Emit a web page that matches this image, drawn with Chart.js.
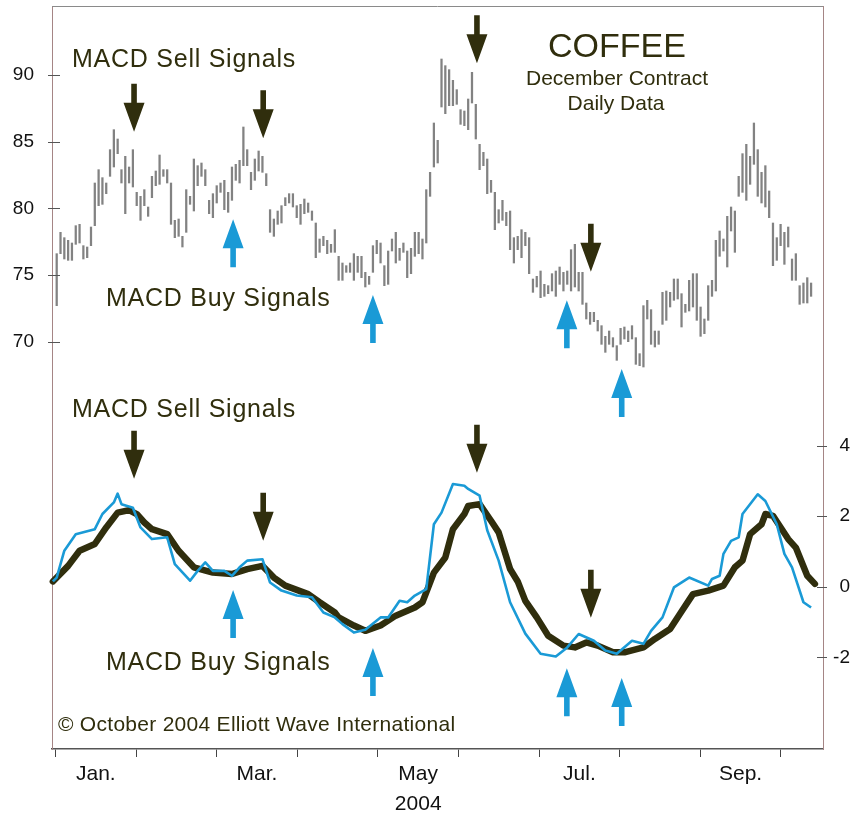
<!DOCTYPE html>
<html>
<head>
<meta charset="utf-8">
<title>Coffee December Contract - MACD signals</title>
<script src="https://cdn.jsdelivr.net/npm/chart.js@4.4.1/dist/chart.umd.min.js"></script>
<style>
    html, body { margin: 0; padding: 0; background: #ffffff; }
    #wrap { width: 864px; height: 816px; }
</style>
</head>
<body>
<div id="wrap"><canvas id="chart" width="864" height="816"></canvas></div>
<script>
// month labels sit between the month tick marks (only every other month is labelled)
const monthLabels = ['Jan.', '', 'Mar.', '', ['May', '2004'], '', 'Jul.', '', 'Sep.'];
const priceTicks = [70, 75, 80, 85, 90];
const macdTicks = [-2, 0, 2, 4];

// daily high / low, one entry per trading day starting in early January
const priceHigh = [
    76.6, 78.2, 77.8, 77.6, 77.4, 78.7, 78.8, 77.2, 77.1, 78.6,
    81.9, 82.9, 82.3, 81.9, 84.4, 85.9, 85.2, 82.9, 83.9, 83.1,
    84.4, 81.2, 80.9, 81.4, 80.1, 82.4, 82.8, 84.0, 82.9, 82.9,
    81.9, 79.1, 79.2, 77.9, 81.4, 80.9, 83.7, 83.2, 83.4, 82.9,
    80.6, 81.1, 81.7, 81.9, 82.1, 81.2, 83.1, 83.3, 83.6, 86.1,
    84.4, 82.7, 83.7, 84.3, 83.9, 82.6, 79.9, 79.2, 79.8, 80.2,
    80.8, 81.1, 81.1, 80.2, 80.3, 80.7, 80.4, 79.8, 78.9, 77.7,
    77.9, 77.6, 77.3, 78.4, 76.4, 75.9, 75.7, 75.9, 76.6, 76.4,
    76.4, 75.2, 74.9, 77.2, 77.6, 77.4, 75.7, 76.8, 77.7, 78.2,
    77.0, 77.4, 76.8, 77.0, 78.2, 78.2, 77.7, 81.4, 82.7, 86.4,
    85.1, 91.2, 90.7, 90.4, 89.6, 88.9, 87.4, 87.3, 88.2, 90.2,
    87.8, 84.8, 84.2, 83.7, 82.1, 81.2, 79.9, 80.6, 79.7, 79.8,
    77.8, 77.9, 78.4, 78.2, 77.8, 74.7, 74.9, 75.3, 74.3, 74.2,
    75.1, 75.3, 75.6, 75.2, 75.3, 76.9, 77.3, 75.2, 75.2, 72.9,
    72.2, 72.2, 71.6, 71.2, 70.4, 70.8, 70.3, 69.7, 71.0, 71.1,
    70.8, 71.2, 70.3, 69.1, 72.7, 73.1, 72.4, 70.8, 70.8, 73.7,
    73.8, 73.7, 74.7, 74.7, 73.6, 72.8, 74.6, 75.1, 75.1, 72.6,
    71.7, 74.2, 74.6, 77.6, 78.3, 77.7, 79.4, 80.1, 79.8, 82.4,
    84.1, 84.8, 83.9, 86.4, 84.4, 82.7, 83.2, 81.3, 78.9, 77.8,
    78.8, 78.2, 78.6, 76.2, 76.6, 74.2, 74.4, 74.8, 74.4
];
const priceLow = [
    72.7, 76.6, 76.2, 76.1, 76.1, 77.3, 77.4, 76.2, 76.3, 77.2,
    78.7, 80.2, 80.3, 81.1, 82.4, 83.1, 84.1, 81.9, 79.6, 81.9,
    81.6, 80.2, 79.1, 80.2, 79.4, 80.8, 81.7, 81.8, 82.4, 81.9,
    78.8, 77.8, 77.9, 77.1, 78.2, 80.3, 79.8, 81.7, 82.4, 81.7,
    79.6, 79.3, 80.4, 81.2, 79.9, 79.7, 80.6, 82.1, 81.9, 83.2,
    83.2, 81.4, 82.1, 82.8, 82.7, 81.7, 78.2, 77.9, 78.8, 78.9,
    80.2, 80.4, 80.1, 79.3, 78.8, 79.6, 79.7, 79.1, 76.3, 76.7,
    77.2, 76.6, 76.7, 76.7, 74.6, 74.6, 75.2, 75.2, 74.6, 75.2,
    74.8, 74.1, 74.3, 75.2, 76.6, 75.9, 74.2, 74.3, 76.8, 75.9,
    76.1, 76.7, 74.8, 75.1, 76.4, 76.6, 76.2, 77.4, 80.9, 83.1,
    83.4, 87.6, 87.1, 87.7, 87.7, 87.8, 86.3, 86.2, 85.9, 87.9,
    85.2, 82.9, 83.2, 81.1, 81.2, 78.4, 78.9, 79.1, 78.7, 76.9,
    75.9, 76.9, 76.3, 77.2, 75.1, 73.7, 74.1, 73.3, 73.4, 73.6,
    73.8, 73.4, 74.3, 73.8, 74.3, 73.8, 74.1, 73.8, 72.8, 71.7,
    71.3, 71.5, 70.8, 69.8, 69.2, 69.8, 69.6, 68.6, 69.8, 70.2,
    70.0, 70.2, 68.3, 68.2, 68.1, 71.7, 69.8, 69.6, 69.8, 71.3,
    71.6, 72.6, 73.1, 73.2, 71.1, 72.2, 72.3, 72.6, 71.6, 70.4,
    70.6, 71.6, 73.4, 73.8, 76.4, 76.8, 75.6, 78.3, 76.7, 80.9,
    81.2, 80.6, 81.8, 83.3, 80.9, 80.4, 80.1, 79.3, 75.7, 76.1,
    77.2, 75.8, 77.1, 74.6, 74.6, 72.8, 72.9, 72.9, 73.4
];

// MACD (thin blue) and its signal line (thick dark), read at these trading days
const macdDays = [
    -1, 0, 2, 5, 10, 12, 15, 16, 17, 20, 22, 25, 29, 31, 35, 37, 39, 41, 44, 46,
    48, 50, 54, 56, 59, 63, 67, 70, 73, 75, 78, 81, 85, 87, 90, 92, 94, 97, 99, 101,
    104, 107, 108, 111, 113, 116, 119, 123, 127, 131, 134, 137, 141, 144, 147, 151, 154, 156, 159, 162,
    166, 171, 172, 174, 175, 177, 179, 180, 184, 186, 189, 191, 193, 196, 198
];
const macdLine = [
    0.15, 0.26, 1.02, 1.49, 1.63, 2.06, 2.39, 2.64, 2.34, 2.24, 1.68, 1.35, 1.40, 0.64, 0.17, 0.45, 0.69, 0.45, 0.45, 0.31,
    0.55, 0.74, 0.78, 0.12, -0.11, -0.25, -0.30, -0.73, -0.87, -1.06, -1.30, -1.22, -0.87, -0.87, -0.40, -0.44, -0.25, -0.07, 1.77, 2.10,
    2.91, 2.86, 2.77, 2.58, 1.60, 0.74, -0.44, -1.33, -1.90, -1.98, -1.72, -1.34, -1.53, -1.81, -1.90, -1.53, -1.62, -1.25, -0.87, -0.02,
    0.26, 0.03, 0.22, 0.31, 0.93, 1.30, 1.40, 2.06, 2.62, 2.43, 1.77, 0.93, 0.55, -0.44, -0.59
];
const signalDays = [
    -1, 3, 6, 10, 13, 16, 19, 21, 23, 25, 29, 32, 36, 41, 46, 50, 54, 57, 60, 66,
    69, 73, 74, 78, 81, 85, 89, 94, 96, 99, 102, 104, 107, 108, 111, 114, 116, 119, 121, 123,
    126, 129, 133, 136, 139, 142, 146, 149, 154, 157, 161, 164, 167, 171, 175, 178, 180, 182, 185, 186,
    188, 192, 194, 197, 199
];
const signalLine = [
    0.15, 0.59, 1.02, 1.21, 1.68, 2.10, 2.17, 2.06, 1.82, 1.63, 1.49, 1.02, 0.55, 0.40, 0.36, 0.50, 0.59, 0.26, 0.03, -0.21,
    -0.44, -0.73, -0.87, -1.10, -1.25, -1.10, -0.82, -0.59, -0.44, 0.40, 0.83, 1.63, 2.06, 2.29, 2.34, 1.87, 1.54, 0.50, 0.15, -0.40,
    -0.87, -1.39, -1.67, -1.72, -1.58, -1.67, -1.86, -1.86, -1.72, -1.48, -1.20, -0.70, -0.21, -0.11, 0.03, 0.55, 0.74, 1.49, 1.77, 2.06,
    2.01, 1.35, 1.11, 0.31, 0.08
];

// signal arrows: trading day, and where the arrow tip sits in each panel
const sellDays = [20.3, 54.2, 110.3, 140.2];
const buyDays = [46.3, 83.0, 133.9, 148.3];
const sellTipPrice = [85.75, 85.25, 90.88, 75.25];
const buyTipPrice = [79.18, 73.5, 73.1, 67.95];
const sellTipMacd = [3.06, 1.30, 3.23, -0.88];
const buyTipMacd = [-0.09, -1.74, -2.31, -2.59];

const FONT = '"Liberation Sans", Arial, Helvetica, sans-serif';
const DARK = '#302e0d';
const BLUE = '#1a9ad6';

// month grid: first month starts at day -0.315, ~21.155 trading days per month
const monthStart = -0.315;
const monthLen = 21.155;

const bars = priceHigh.map((h, i) => ({ x: i, y: [priceLow[i], h] }));
const macdPoints = macdDays.map((d, i) => ({ x: d, y: macdLine[i] }));
const signalPoints = signalDays.map((d, i) => ({ x: d, y: signalLine[i] }));

function drawArrow(ctx, x, tipY, dir, color) {
    // dir 1 = pointing down, -1 = pointing up
    const total = 48, head = 29, halfHead = 10.5, halfShaft = 2.8;
    const baseY = tipY - dir * head;
    const tailY = tipY - dir * total;
    ctx.fillStyle = color;
    ctx.beginPath();
    ctx.moveTo(x - halfShaft, tailY);
    ctx.lineTo(x + halfShaft, tailY);
    ctx.lineTo(x + halfShaft, baseY);
    ctx.lineTo(x + halfHead, baseY);
    ctx.lineTo(x, tipY);
    ctx.lineTo(x - halfHead, baseY);
    ctx.lineTo(x - halfShaft, baseY);
    ctx.closePath();
    ctx.fill();
}

// keep the axes from reserving room for half-labels at the plot edges
function noEdgePadding(scale) {
    scale.paddingTop = 0;
    scale.paddingBottom = 0;
    scale.paddingLeft = 0;
    scale.paddingRight = 0;
}

const decorations = {
    id: 'decorations',
    afterDraw(chart) {
        const ctx = chart.ctx;
        const area = chart.chartArea;
        const xs = chart.scales.x, ys = chart.scales.y, ys2 = chart.scales.y2;
        ctx.save();

        // top frame line
        ctx.strokeStyle = '#8a8a8a';
        ctx.lineWidth = 1;
        ctx.beginPath();
        ctx.moveTo(area.left, area.top + 0.5);
        ctx.lineTo(area.right, area.top + 0.5);
        ctx.stroke();

        // tick marks crossing the two value axes
        ctx.strokeStyle = '#555';
        priceTicks.forEach(v => {
            const py = Math.round(ys.getPixelForValue(v)) + 0.5;
            ctx.beginPath();
            ctx.moveTo(area.left - 4, py);
            ctx.lineTo(area.left + 8, py);
            ctx.stroke();
        });
        macdTicks.forEach(v => {
            const py = Math.round(ys2.getPixelForValue(v)) + 0.5;
            ctx.beginPath();
            ctx.moveTo(area.right - 6, py);
            ctx.lineTo(area.right + 4, py);
            ctx.stroke();
        });

        // arrows
        sellDays.forEach((d, i) => {
            const px = xs.getPixelForValue(d);
            drawArrow(ctx, px, ys.getPixelForValue(sellTipPrice[i]), 1, DARK);
            drawArrow(ctx, px, ys2.getPixelForValue(sellTipMacd[i]), 1, DARK);
        });
        buyDays.forEach((d, i) => {
            const px = xs.getPixelForValue(d);
            drawArrow(ctx, px, ys.getPixelForValue(buyTipPrice[i]), -1, BLUE);
            drawArrow(ctx, px, ys2.getPixelForValue(buyTipMacd[i]), -1, BLUE);
        });

        // titles and notes
        ctx.fillStyle = DARK;
        ctx.textBaseline = 'alphabetic';
        ctx.textAlign = 'center';
        ctx.font = '34px ' + FONT;
        ctx.fillText('COFFEE', 617, 57);
        ctx.font = '21px ' + FONT;
        ctx.fillText('December Contract', 617, 85);
        ctx.fillText('Daily Data', 616, 110);

        ctx.textAlign = 'left';
        ctx.font = '25px ' + FONT;
        ctx.letterSpacing = '0.75px';
        ctx.fillText('MACD Sell Signals', 72, 67);
        ctx.fillText('MACD Buy Signals', 106, 306);
        ctx.fillText('MACD Sell Signals', 72, 417);
        ctx.fillText('MACD Buy Signals', 106, 670);
        ctx.font = '21px ' + FONT;
        ctx.letterSpacing = '0.28px';
        ctx.fillText('\u00A9 October 2004 Elliott Wave International', 58, 731);
        ctx.letterSpacing = '0px';

        ctx.restore();
    }
};

const ctx = document.getElementById('chart').getContext('2d');
new Chart(ctx, {
    type: 'bar',
    data: {
        datasets: [
            {
                type: 'line',
                label: 'MACD',
                data: macdPoints,
                xAxisID: 'x',
                yAxisID: 'y2',
                borderColor: BLUE,
                borderWidth: 2.6,
                pointRadius: 0,
                tension: 0,
                borderJoinStyle: 'round',
                clip: 6
            },
            {
                type: 'line',
                label: 'Signal',
                data: signalPoints,
                xAxisID: 'x',
                yAxisID: 'y2',
                borderColor: DARK,
                borderWidth: 6.5,
                pointRadius: 0,
                tension: 0,
                borderCapStyle: 'round',
                borderJoinStyle: 'round',
                clip: 6
            },
            {
                type: 'bar',
                label: 'Coffee',
                data: bars,
                xAxisID: 'x',
                yAxisID: 'y',
                backgroundColor: '#828282',
                borderWidth: 0,
                barThickness: 1.6
            }
        ]
    },
    options: {
        responsive: false,
        animation: false,
        devicePixelRatio: 1,
        layout: { padding: { top: 6, right: 14, left: 0, bottom: 0 } },
        plugins: {
            legend: { display: false },
            tooltip: { enabled: false }
        },
        scales: {
            x: {
                type: 'linear',
                position: 'bottom',
                min: -1.234,
                max: 201.13,
                offset: false,
                afterBuildTicks: scale => {
                    const t = [];
                    for (let k = 0; k <= 9; k++) {
                        t.push({ value: monthStart + monthLen * k });
                        if (k < 9) t.push({ value: monthStart + monthLen * (k + 0.5) });
                    }
                    scale.ticks = t;
                },
                afterFit: scale => { scale.height = 67; noEdgePadding(scale); },
                grid: {
                    offset: false,
                    drawOnChartArea: false,
                    drawTicks: true,
                    tickLength: 8,
                    color: c => (c.index % 2 === 0 ? '#444' : 'rgba(0,0,0,0)'),
                    lineWidth: 1
                },
                border: { display: true, color: '#555', width: 1.5 },
                ticks: {
                    autoSkip: false,
                    maxRotation: 0,
                    padding: 2.5,
                    color: '#111',
                    font: { family: FONT, size: 21, lineHeight: 1.43 },
                    callback: (v, i) => (i % 2 === 1 ? monthLabels[(i - 1) / 2] : '')
                }
            },
            y: {
                type: 'linear',
                position: 'left',
                min: 39.45,
                max: 95.175,
                beginAtZero: false,
                afterBuildTicks: scale => { scale.ticks = priceTicks.map(v => ({ value: v })); },
                afterFit: scale => { scale.width = 52; noEdgePadding(scale); },
                grid: { display: false, drawTicks: false },
                border: { display: true, color: '#a58585', width: 1 },
                ticks: {
                    padding: 18,
                    color: '#111',
                    font: { family: FONT, size: 19 }
                }
            },
            y2: {
                type: 'linear',
                position: 'right',
                min: -4.60,
                max: 16.46,
                beginAtZero: false,
                afterBuildTicks: scale => { scale.ticks = macdTicks.map(v => ({ value: v })); },
                afterFit: scale => { scale.width = 27; noEdgePadding(scale); },
                grid: { display: false, drawTicks: false },
                border: { display: true, color: '#a58585', width: 1 },
                ticks: {
                    crossAlign: 'far',
                    padding: 8,
                    color: '#111',
                    font: { family: FONT, size: 19 }
                }
            }
        }
    },
    plugins: [decorations]
});
</script>
</body>
</html>
